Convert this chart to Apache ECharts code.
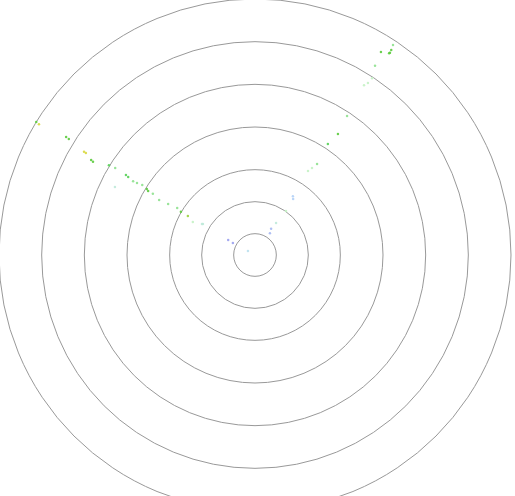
<!DOCTYPE html>
<html>
<head>
<meta charset="utf-8">
<script src="https://cdn.jsdelivr.net/npm/echarts@6/dist/echarts.min.js"></script>
<style>
html,body{margin:0;padding:0;background:#fff;}
#chart{width:515px;height:496px;}
</style>
</head>
<body>
<div id="chart"></div>
<script>
// Radius ring values (split circles)
var ringValues = [0.5, 1.25, 2, 3, 4, 5, 6];

// Point radii (axis units 0..6)
var radii = [
  5.89, 5.77, 5.70, 5.68, 5.60, 5.25, 4.97, 4.82, 4.73, 3.91,
  3.44, 3.11, 2.58, 2.44, 2.33, 1.64, 1.59, 1.26, 0.90, 0.72,
  0.62,
  0.72, 0.59, 1.42, 0.19, 6.00, 5.92, 5.22, 5.14, 4.68,
  4.63, 4.44, 4.38, 4.02, 3.86, 3.56, 3.49, 3.34, 3.24, 3.11,
  2.97, 2.92, 3.65, 2.79, 2.59, 2.36, 2.13, 2.01, 1.82, 1.65,
  1.44
];
// Point angles (degrees, counter-clockwise from east)
var angles = [
  56.7, 56.4, 56.3, 56.4, 58.2, 57.6, 56.5, 56.7, 57.3, 56.5,
  55.6, 56.7, 55.7, 56.8, 57.8, 57.2, 55.8, 54.8, 56.7, 58.4,
  55.7,
  150.9, 151.4, 149.2, 150.3, 148.7, 148.8, 148.0, 148.1, 148.9,
  148.9, 149.9, 150.1, 148.4, 148.1, 148.2, 148.4, 148.8, 148.6, 148.2,
  148.6, 149.1, 154.1, 149.1, 150.2, 149.6, 148.9, 149.8, 149.8, 152.0,
  149.7
];
// Point values (drive colour)
var values = [
  6, 8, 8, 8, 8, 6, 5, 5, 5, 6,
  8, 7, 6, 5, 5, 2, 2, 5, 4, 1,
  1,
  0, 0, 4, 3, 8, 10, 8, 8, 10,
  10, 8, 8, 7, 6, 7, 7, 6, 6, 6,
  8, 8, 4, 6, 6, 6, 6, 8, 9, 5,
  4
];

var data = radii.map(function (r, i) { return [r, angles[i], values[i]]; });

var chart = echarts.init(document.getElementById('chart'));
chart.setOption({
  animation: false,
  backgroundColor: '#fff',
  polar: { center: [255, 255], radius: 256 },
  angleAxis: {
    type: 'value', min: 0, max: 360, startAngle: 0, clockwise: false,
    show: false
  },
  radiusAxis: {
    type: 'value', min: 0, max: 6,
    axisLine: { show: false },
    axisLabel: { show: false },
    axisTick: { show: false, customValues: ringValues },
    splitLine: { show: true, lineStyle: { color: '#999', width: 1 } }
  },
  visualMap: {
    show: false, type: 'continuous', min: 0, max: 10, dimension: 2,
    inRange: { color: ['#9aa0ee', '#b8dcf8', '#c4f2c4', '#3cc83c', '#d8d840'] }
  },
  series: [{
    type: 'scatter',
    coordinateSystem: 'polar',
    symbolSize: 2.5,
    itemStyle: { opacity: 0.9 },
    data: data
  }]
});
</script>
</body>
</html>
